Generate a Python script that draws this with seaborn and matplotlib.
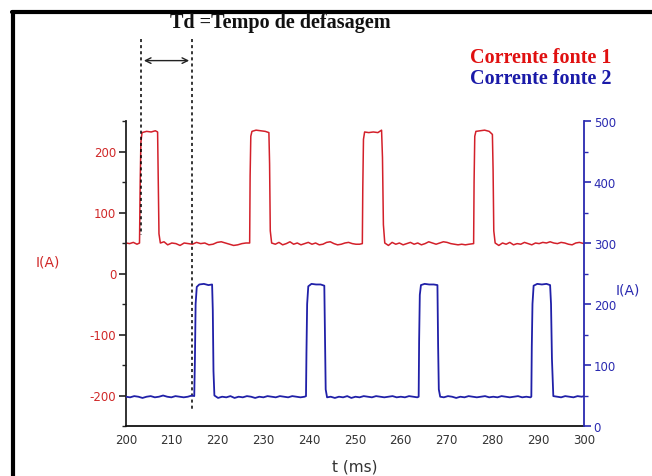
import matplotlib
matplotlib.use("Agg")
import matplotlib.pyplot as plt
import seaborn as sns
from matplotlib.lines import Line2D
from matplotlib.ticker import MultipleLocator

# ---------------- data ----------------
red_t = [200.0, 200.8, 201.6, 202.4, 202.95,
         203.1, 203.25, 203.5, 204.5, 205.5, 206.4,
         206.9, 207.05, 207.2, 207.5,
         208.3, 209.1, 210.0, 210.9, 211.8, 212.7, 213.6, 214.5, 215.4, 216.3, 217.2,
         218.1, 219.0, 219.9, 220.8, 221.7, 222.6, 223.5, 224.4, 225.3, 226.2, 227.0,
         227.1, 227.25, 227.5, 228.4, 229.4, 230.4, 231.2,
         231.35, 231.5, 231.8,
         232.6, 233.4, 234.2, 235.0, 235.8, 236.6, 237.4, 238.2, 239.0, 239.8, 240.6,
         241.4, 242.2, 243.0, 243.8, 244.6, 245.4, 246.2, 247.0, 247.8, 248.6, 249.4,
         250.2, 251.0, 251.6,
         251.7, 251.85, 252.1, 253.0, 254.0, 255.0, 255.8,
         256.0, 256.2, 256.5,
         257.3, 258.1, 258.9, 259.7, 260.5, 261.3, 262.1, 262.9, 263.7, 264.5, 265.3,
         266.1, 266.9, 267.7, 268.5, 269.3, 270.1, 270.9, 271.7, 272.5, 273.3, 274.1,
         274.9, 275.9,
         276.0, 276.15, 276.4, 277.3, 278.3, 279.3, 280.0,
         280.15, 280.3, 280.6,
         281.4, 282.2, 283.0, 283.8, 284.6, 285.4, 286.2, 287.0, 287.8, 288.6, 289.4,
         290.2, 291.0, 291.8, 292.6, 293.4, 294.2, 295.0, 295.8, 296.6, 297.4, 298.2,
         299.0, 300.0]
red_i = [50, 49, 51, 48, 50,
         150, 215, 231, 233, 232, 234,
         232, 150, 65, 50,
         52, 47, 50, 49, 46, 50, 49, 48, 51, 49, 50,
         47, 48, 51, 52, 50, 48, 46, 47, 49, 50, 50,
         160, 225, 233, 235, 234, 233, 231,
         180, 70, 50,
         48, 51, 47, 49, 52, 48, 50, 47, 49, 51, 48,
         50, 47, 48, 51, 52, 49, 47, 48, 50, 51, 49,
         48, 48, 49,
         140, 220, 232, 231, 232, 231, 235,
         190, 80, 50,
         46, 51, 48, 50, 47, 49, 51, 48, 50, 47, 49,
         52, 50, 48, 50, 52, 51, 49, 48, 47, 48, 47,
         48, 49,
         150, 225, 233, 234, 235, 233, 228,
         170, 70, 50,
         46, 50, 48, 51, 47, 49, 48, 51, 49, 47, 50,
         49, 51, 50, 52, 50, 49, 51, 50, 48, 47, 50,
         51, 49]

blue_t = [200.0, 200.9, 201.8, 202.7, 203.6, 204.5, 205.4, 206.3, 207.2, 208.1, 209.0,
          209.9, 210.8, 211.7, 212.6, 213.5, 214.4, 214.9,
          215.05, 215.2, 215.45, 216.0, 217.0, 218.0, 218.8,
          218.95, 219.1, 219.3,
          220.1, 221.0, 221.9, 222.8, 223.7, 224.6, 225.5, 226.4, 227.3, 228.2, 229.1,
          230.0, 230.9, 231.8, 232.7, 233.6, 234.5, 235.4, 236.3, 237.2, 238.1, 239.0,
          239.3,
          239.4, 239.55, 239.8, 240.5, 241.5, 242.5, 243.3,
          243.45, 243.6, 243.9,
          244.7, 245.6, 246.5, 247.4, 248.3, 249.2, 250.1, 251.0, 251.9, 252.8, 253.7,
          254.6, 255.5, 256.4, 257.3, 258.2, 259.1, 260.0, 260.9, 261.8, 262.7, 263.6,
          263.9,
          264.0, 264.15, 264.4, 265.2, 266.2, 267.2, 268.0,
          268.15, 268.3, 268.6,
          269.4, 270.3, 271.2, 272.1, 273.0, 273.9, 274.8, 275.7, 276.6, 277.5, 278.4,
          279.3, 280.2, 281.1, 282.0, 282.9, 283.8, 284.7, 285.6, 286.5, 287.4, 288.3,
          288.5,
          288.6, 288.75, 289.0, 289.8, 290.8, 291.8, 292.6,
          292.8, 293.0, 293.3,
          294.1, 295.0, 295.9, 296.8, 297.7, 298.6, 299.5, 300.0]
blue_i = [48, 47, 49, 48, 46, 48, 49, 47, 48, 50, 48,
          47, 49, 48, 47, 48, 50, 49,
          110, 200, 228, 232, 233, 231, 232,
          190, 90, 50,
          46, 48, 47, 49, 46, 48, 47, 49, 48, 46, 48,
          47, 49, 48, 47, 49, 48, 47, 49, 48, 47, 48,
          49,
          120, 200, 229, 233, 232, 232, 230,
          150, 60, 47,
          48, 46, 48, 47, 49, 46, 48, 47, 49, 48, 47,
          49, 48, 47, 48, 49, 47, 48, 47, 49, 48, 47,
          48,
          140, 215, 231, 233, 232, 232, 231,
          130, 60, 48,
          47, 49, 48, 46, 48, 47, 49, 48, 47, 48, 49,
          47, 48, 47, 49, 48, 47, 48, 49, 47, 48, 47,
          48,
          130, 200, 230, 233, 232, 233, 231,
          200, 110, 49,
          48, 47, 49, 48, 47, 49, 48, 49]

td_start, td_end = 203.3, 214.4

# ---------------- style ----------------
RED = "#d3202a"
RED_TXT = "#d02828"
BLUE = "#2020a8"
BLUE_AX = "#2a2ab0"

sns.set_style("white")
plt.rcParams['font.family'] = ['DejaVu Sans']
plt.rcParams['axes.unicode_minus'] = False

fig = plt.figure(figsize=(6.52, 4.77), dpi=100)
ax = fig.add_axes([126/652, 1-427/477, 458/652, 305/477])
ax2 = ax.twinx()

sns.lineplot(x=red_t, y=red_i, ax=ax, color=RED, lw=1.1, estimator=None, sort=False)
sns.lineplot(x=blue_t, y=blue_i, ax=ax2, color=BLUE, lw=1.3, estimator=None, sort=False)

ax.set_xlim(200, 300)
ax.set_ylim(-250, 250)
ax2.set_ylim(0, 500)

ax.xaxis.set_major_locator(MultipleLocator(10))
ax.xaxis.set_minor_locator(MultipleLocator(5))
ax.yaxis.set_major_locator(MultipleLocator(100))
ax.yaxis.set_minor_locator(MultipleLocator(50))
ax2.yaxis.set_major_locator(MultipleLocator(100))
ax2.yaxis.set_minor_locator(MultipleLocator(50))

for s in ['top', 'right']:
    ax.spines[s].set_visible(False)
for s in ['top', 'left', 'bottom']:
    ax2.spines[s].set_visible(False)
ax.spines['left'].set_color('#222222')
ax.spines['bottom'].set_color('#111111')
ax.spines['left'].set_linewidth(1.3)
ax.spines['bottom'].set_linewidth(1.3)
ax2.spines['right'].set_color(BLUE_AX)
ax2.spines['right'].set_linewidth(1.3)

ax.tick_params(axis='x', which='major', direction='inout', length=6, width=1.2,
               colors='#111111', labelsize=8.5, labelcolor='#333333', pad=2)
ax.tick_params(axis='x', which='minor', direction='inout', length=4, width=1.0, colors='#111111')
ax.tick_params(axis='y', which='major', direction='out', length=5, width=1.2,
               colors='#222222', labelcolor=RED_TXT, labelsize=8.5, pad=2)
ax.tick_params(axis='y', which='minor', direction='out', length=3, width=1.0, colors='#222222')
ax2.tick_params(axis='y', which='major', direction='out', length=5, width=1.2,
                colors=BLUE_AX, labelcolor=BLUE_AX, labelsize=8.5, pad=2)
ax2.tick_params(axis='y', which='minor', direction='out', length=3, width=1.0, colors=BLUE_AX)

ax.set_xlabel("t (ms)", fontsize=11, color='#333333', labelpad=9)
ax.set_ylabel("I(A)", fontsize=10, color=RED_TXT, rotation=0)
ax.yaxis.set_label_coords(-0.17, 0.515)
ax2.set_ylabel("I(A)", fontsize=10, color=BLUE_AX, rotation=0)
ax2.yaxis.set_label_coords(1.095, 0.47)

# Td markers
dash = (0, (2, 2))
ax.plot([td_start, td_start], [384, 63], color='black', lw=1.1, ls=dash, clip_on=False)
ax.plot([td_end, td_end], [384, -224], color='black', lw=1.1, ls=dash, clip_on=False)
ax.annotate('', xy=(td_start, 349), xytext=(td_end, 349),
            arrowprops=dict(arrowstyle='<->', lw=1.0, color='#222222'),
            annotation_clip=False)

serif = ['Liberation Serif', 'DejaVu Serif']
fig.text(280/652, 1-23/477, "Td =Tempo de defasagem", ha='center', va='center',
         fontsize=14.5, fontweight='bold', family=serif, color='#111111')
fig.text(611/652, 1-58/477, "Corrente fonte 1", ha='right', va='center',
         fontsize=14.5, fontweight='bold', family=serif, color='#e01010')
fig.text(611/652, 1-79/477, "Corrente fonte 2", ha='right', va='center',
         fontsize=14.5, fontweight='bold', family=serif, color='#1a1aa8')

# outer frame (top and left edges)
fig.add_artist(Line2D([12/652, 1.0], [1-13/477, 1-13/477], color='black', lw=3,
                      transform=fig.transFigure))
fig.add_artist(Line2D([13/652, 13/652], [0.0, 1-13/477], color='black', lw=3,
                      transform=fig.transFigure))

fig.savefig("out.png", dpi=100)
